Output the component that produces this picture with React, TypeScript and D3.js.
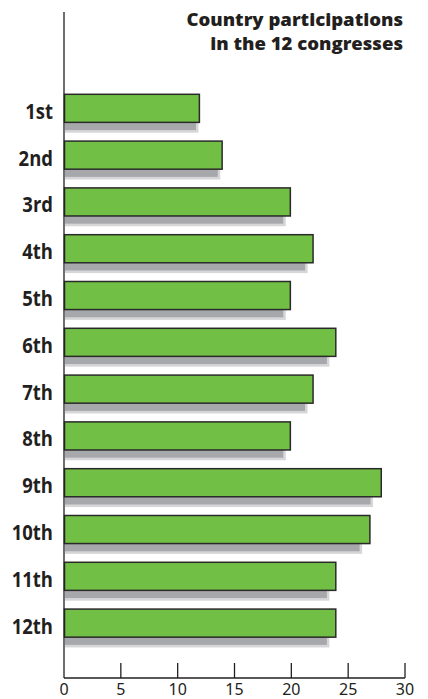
import React from "react";
import * as d3 from "d3";

const categories = ["1st", "2nd", "3rd", "4th", "5th", "6th", "7th", "8th", "9th", "10th", "11th", "12th"];
const participations = [12, 14, 20, 22, 20, 24, 22, 20, 28, 27, 24, 24];
const xTicks = [0, 5, 10, 15, 20, 25, 30];
const titleLines = ["Country participations", "in the 12 congresses"];

const W = 428;
const H = 699;

export default function App() {
  const x = d3.scaleLinear().domain([0, 30]).range([64, 405]);
  const y = d3
    .scaleBand<string>()
    .domain(categories)
    .range([80.26, 651.2])
    .paddingInner(0.4)
    .paddingOuter(0.3);
  const bh = y.bandwidth();
  const axisY = 678;
  return (
    <svg
      width={W}
      height={H}
      style={{ position: "absolute", left: 0, top: 0, background: "#fff" }}
    >
      {categories.map((c, i) => {
        const top = y(c)!;
        const w = x(participations[i]) - x(0);
        const sw = w * 0.96;
        return (
          <g key={c}>
            <rect x={65} y={top + 10} width={sw + 2.5} height={bh + 0.3} fill="#d6d6d8" />
            <rect x={65} y={top + 10} width={sw} height={bh - 2.3} fill="#a7a8ab" />
            <rect
              x={x(0) + 0.5}
              y={top}
              width={w - 1.5}
              height={bh}
              fill="#71bf44"
              stroke="#2a2a2a"
              strokeWidth={1.5}
            />
            <text
              transform={`translate(53, ${top + bh / 2 + 10.5}) scale(0.84, 1)`}
              textAnchor="end"
              fontFamily="'Open Sans', sans-serif"
              fontWeight="bold"
              fontSize={22}
              fill="#231f20"
            >
              {c}
            </text>
          </g>
        );
      })}
      <line x1={64} x2={64} y1={12} y2={axisY} stroke="#231f20" strokeWidth={1.3} />
      <line x1={64} x2={405} y1={axisY} y2={axisY} stroke="#231f20" strokeWidth={1.3} />
      {xTicks.map((t) => (
        <g key={t}>
          {t > 0 && (
            <line x1={x(t)} x2={x(t)} y1={axisY - 15} y2={axisY} stroke="#231f20" strokeWidth={1.3} />
          )}
          <text
            x={x(t)}
            y={694.5}
            textAnchor="middle"
            fontFamily="'Noto Sans', 'Open Sans', sans-serif"
            fontSize={16}
            fill="#231f20"
          >
            {t}
          </text>
        </g>
      ))}
      {titleLines.map((l, i) => (
        <text
          key={l}
          transform={`translate(403, ${26 + i * 24}) scale(1.06, 1)`}
          textAnchor="end"
          fontFamily="'Open Sans', sans-serif"
          fontWeight="800"
          fontSize={17.5}
          fill="#231f20"
        >
          {l}
        </text>
      ))}
    </svg>
  );
}
